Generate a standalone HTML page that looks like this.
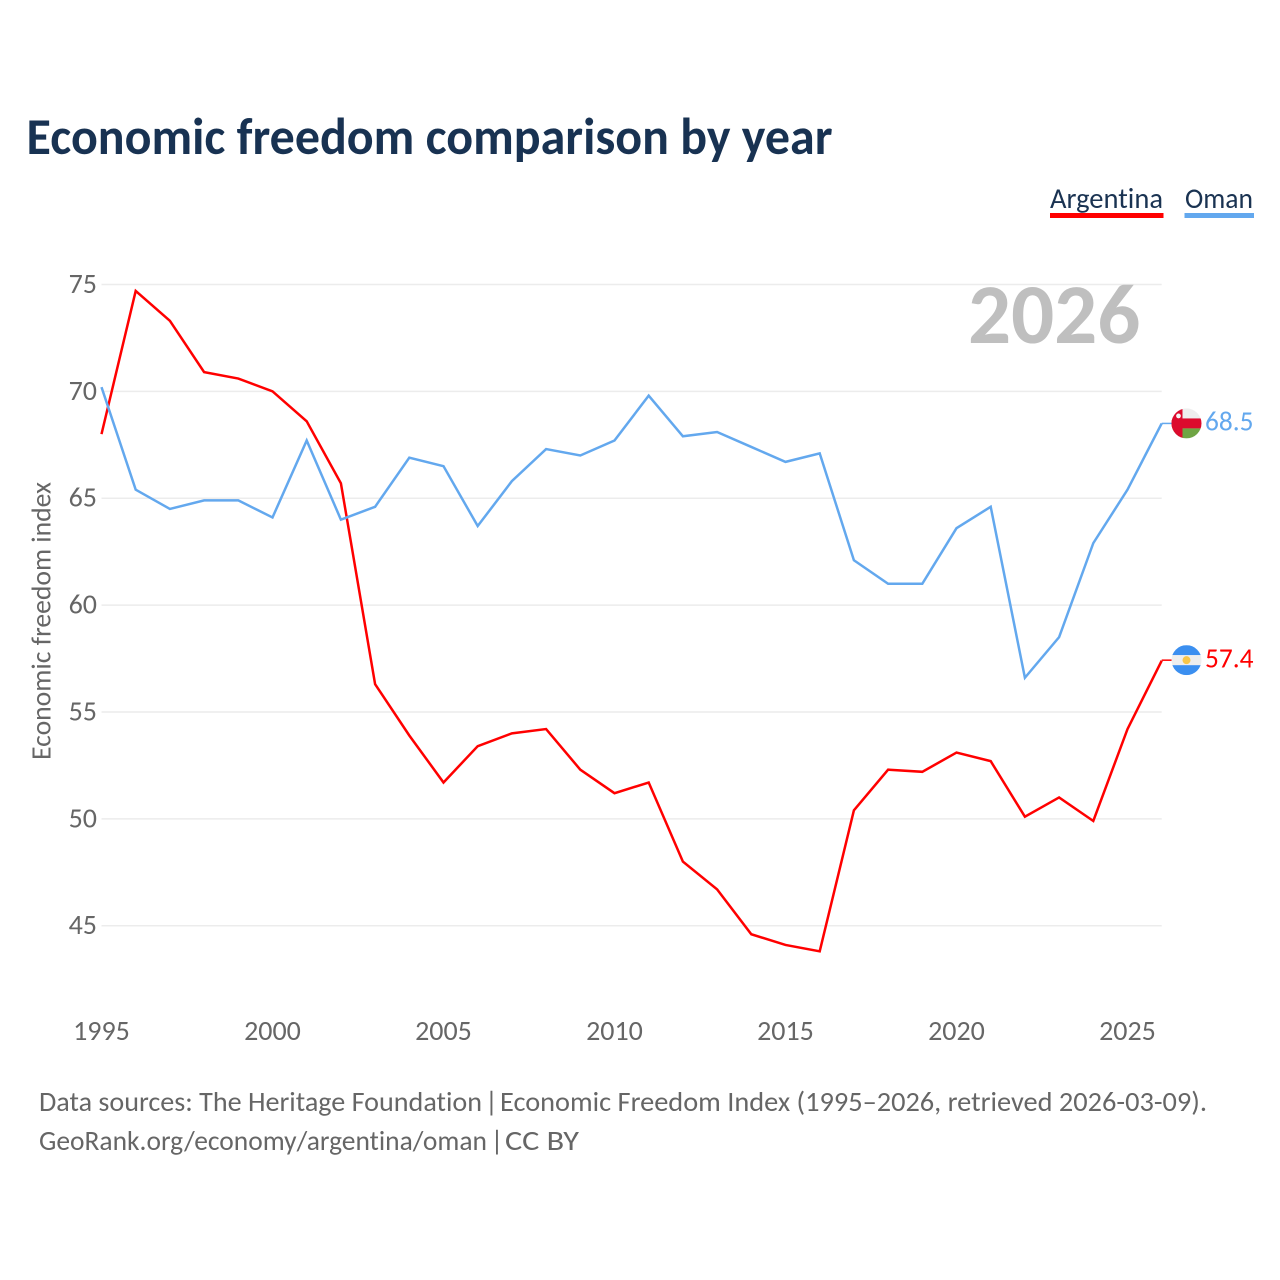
<!DOCTYPE html>
<html lang="en">
<head>
<meta charset="utf-8">
<title>Economic freedom comparison by year</title>
<style>
html,body{margin:0;padding:0;background:#fff;}
svg{display:block;font-family:"Carlito","Lato","Liberation Sans",sans-serif;font-variant-ligatures:none;}
</style>
</head>
<body>
<svg id="chart" xmlns="http://www.w3.org/2000/svg" width="1280" height="1280" viewBox="0 0 1280 1280">
  <defs>
    <clipPath id="flag-clip"><circle cx="0" cy="0" r="15"/></clipPath>
  </defs>
  <rect x="0" y="0" width="1280" height="1280" fill="#fff"/>
  <text x="26.5" y="154" font-size="52" font-weight="700" fill="#183252" textLength="806" lengthAdjust="spacingAndGlyphs">Economic freedom comparison by year</text>

  <g>
    <g>
      <text x="1050" y="208" font-size="29" fill="#1a3352" textLength="113" lengthAdjust="spacingAndGlyphs">Argentina</text>
      <rect x="1050" y="213" width="113.500" height="5" fill="#ff0000"/>
    </g>
    <g>
      <text x="1185" y="208" font-size="29" fill="#1a3352" textLength="68" lengthAdjust="spacingAndGlyphs">Oman</text>
      <rect x="1184.500" y="213" width="69.500" height="5" fill="#63a8ee"/>
    </g>
  </g>

  <g id="grid"></g>
  <g id="y-ticks"></g>
  <g id="x-ticks"></g>
  <text transform="translate(50.5,621) rotate(-90)" text-anchor="middle" font-size="28" fill="#666" textLength="278" lengthAdjust="spacingAndGlyphs">Economic freedom index</text>
  <text x="968" y="343" font-size="85" font-weight="700" fill="#bfbfbf">2026</text>

  <g id="series"></g>
  <g id="end-markers"></g>

  <g font-size="28" fill="#666">
    <text x="39" y="1111" textLength="443" lengthAdjust="spacingAndGlyphs">Data sources: The Heritage Foundation</text>
    <text x="485" y="1111">|</text>
    <text x="500" y="1111" textLength="707" lengthAdjust="spacingAndGlyphs">Economic Freedom Index (1995–2026, retrieved 2026-03-09).</text>
  </g>
  <g font-size="28" fill="#666">
    <text x="39" y="1150" textLength="448" lengthAdjust="spacingAndGlyphs">GeoRank.org/economy/argentina/oman</text>
    <text x="490.500" y="1150">|</text>
    <text x="505" y="1150" textLength="74" lengthAdjust="spacingAndGlyphs">CC BY</text>
  </g>
</svg>
<script>
const years = [1995,1996,1997,1998,1999,2000,2001,2002,2003,2004,2005,2006,2007,2008,2009,2010,2011,2012,2013,2014,2015,2016,2017,2018,2019,2020,2021,2022,2023,2024,2025,2026];
const argentinaValues = [68.0,74.7,73.3,70.9,70.6,70.0,68.6,65.7,56.3,53.9,51.7,53.4,54.0,54.2,52.3,51.2,51.7,48.0,46.7,44.6,44.1,43.8,50.4,52.3,52.2,53.1,52.7,50.1,51.0,49.9,54.2,57.4];
const omanValues = [70.2,65.4,64.5,64.9,64.9,64.1,67.7,64.0,64.6,66.9,66.5,63.7,65.8,67.3,67.0,67.7,69.8,67.9,68.1,67.4,66.7,67.1,62.1,61.0,61.0,63.6,64.6,56.6,58.5,62.9,65.4,68.5];
const yTickLabels = [45,50,55,60,65,70,75];
const xTickLabels = [1995,2000,2005,2010,2015,2020,2025];

const NS = 'http://www.w3.org/2000/svg';
const xScale = year => 101.5 + (year - 1995) * (1161.7 - 101.5) / 31;
const yScale = value => 284.5 + (75 - value) * (925.7 - 284.5) / 30;

function make(tag, attrs, parent) {
  const el = document.createElementNS(NS, tag);
  for (const k in attrs) el.setAttribute(k, attrs[k]);
  parent.appendChild(el);
  return el;
}

const gridGroup = document.getElementById('grid');
const yTickGroup = document.getElementById('y-ticks');
yTickLabels.forEach(v => {
  const line = make('line', {x1: 101.5, x2: 1161.7, y1: yScale(v), y2: yScale(v), stroke: '#ececec', 'stroke-width': 1.5}, gridGroup);
  
  
  const label = make('text', {x: 97, y: yScale(v) + 8.5, 'text-anchor': 'end', 'font-size': 28, fill: '#666'}, yTickGroup);
  
  
  label.textContent = v;
});

const xTickGroup = document.getElementById('x-ticks');
xTickLabels.forEach(y => {
  const label = make('text', {x: xScale(y), y: 1040, 'text-anchor': 'middle', 'font-size': 28, fill: '#666'}, xTickGroup);
  
  
  label.textContent = y;
});

function pathFor(values) {
  return values.map((v, i) => (i ? 'L' : 'M') + xScale(years[i]).toFixed(2) + ' ' + yScale(v).toFixed(2)).join(' ');
}

const seriesGroup = document.getElementById('series');
const argentinaLine = make('path', {d: pathFor(argentinaValues), fill: 'none', stroke: '#ff0000', 'stroke-width': 2.5, 'stroke-linejoin': 'miter'}, seriesGroup);


const omanLine = make('path', {d: pathFor(omanValues), fill: 'none', stroke: '#63a8ee', 'stroke-width': 2.5, 'stroke-linejoin': 'miter'}, seriesGroup);



const markers = document.getElementById('end-markers');
const lastIndex = years.length - 1;

/* Argentina end marker */
const argY = yScale(argentinaValues[lastIndex]);
const argConnector = make('line', {x1: xScale(years[lastIndex]), x2: 1172, y1: argY - 0.5, y2: argY - 0.5, stroke: '#ff0000', 'stroke-width': 1.500}, markers);


const argFlag = make('g', {transform: 'translate(1186.5,' + (argY - 0.5) + ')', 'clip-path': 'url(#flag-clip)'}, markers);


make('rect', {x: -15, y: -15, width: 30, height: 10, fill: '#3b8ff0'}, argFlag);
make('rect', {x: -15, y: -5, width: 30, height: 10, fill: '#eeeeee'}, argFlag);
make('rect', {x: -15, y: 5, width: 30, height: 10, fill: '#3b8ff0'}, argFlag);
make('circle', {cx: 0, cy: 0, r: 4, fill: '#f8c64a'}, argFlag);
const argLabel = make('text', {x: 1205, y: argY + 7, 'font-size': 28, fill: '#ff0000', textLength: 48.5, lengthAdjust: 'spacingAndGlyphs'}, markers);


argLabel.textContent = argentinaValues[lastIndex].toFixed(1);

/* Oman end marker */
const omanY = yScale(omanValues[lastIndex]);
const omanConnector = make('line', {x1: xScale(years[lastIndex]), x2: 1172, y1: omanY, y2: omanY, stroke: '#63a8ee', 'stroke-width': 1.500}, markers);


const omanFlag = make('g', {transform: 'translate(1186.5,' + omanY + ')', 'clip-path': 'url(#flag-clip)'}, markers);


make('rect', {x: -15, y: -15, width: 30, height: 10, fill: '#eeeeee'}, omanFlag);
make('rect', {x: -15, y: -5, width: 30, height: 10, fill: '#dc0a2d'}, omanFlag);
make('rect', {x: -15, y: 5, width: 30, height: 10, fill: '#6fa544'}, omanFlag);
make('rect', {x: -15, y: -15, width: 11, height: 30, fill: '#dc0a2d'}, omanFlag);
make('circle', {cx: -8, cy: -7.5, r: 2.4, fill: '#f4f4f4'}, omanFlag);
const omanLabel = make('text', {x: 1205, y: omanY + 7, 'font-size': 28, fill: '#63a8ee', textLength: 48.5, lengthAdjust: 'spacingAndGlyphs'}, markers);


omanLabel.textContent = omanValues[lastIndex].toFixed(1);
</script>
</body>
</html>
